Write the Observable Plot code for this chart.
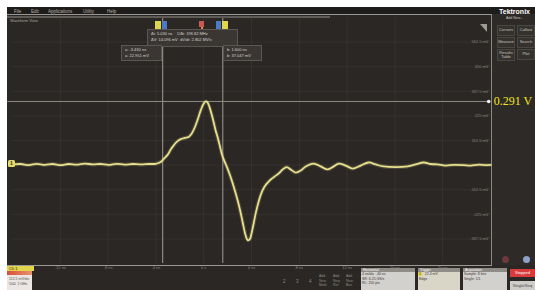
<!DOCTYPE html>
<html><head><meta charset="utf-8">
<script src="https://cdn.jsdelivr.net/npm/d3@7"></script>
<script src="https://cdn.jsdelivr.net/npm/@observablehq/plot@0.6"></script>
<style>
body{margin:0;background:#fff;width:535px;height:290px;overflow:hidden;position:relative;font-family:"Liberation Sans",Arial,sans-serif}
.a{position:absolute}
.t{position:absolute;color:#b5b1ab;font-size:4.5px;line-height:5px;white-space:nowrap}
.btn{position:absolute;background:#34312e;border:0.5px solid #4a4743;color:#c9c5bf;font-size:4px;line-height:4.5px;text-align:center;display:flex;align-items:center;justify-content:center}
.box{position:absolute;background:#3a3633;border:0.5px solid #5a5652;color:#d6d2cc;font-size:4px;line-height:6px;padding:1px 3px;white-space:nowrap}
.pan{position:absolute;background:#d3d1ce;color:#3a3835;font-size:3.5px;line-height:4.5px;white-space:nowrap;overflow:hidden}
.pan .h{background:#8f8c88;color:#fff;padding:0 2px;height:4px;line-height:4px}
</style></head>
<body>
<div class="a" id="screen" style="left:7px;top:7px;width:528px;height:283px;background:#2a2724;z-index:0"></div>
<div class="a" style="left:492px;top:7px;width:43px;height:258px;background:#2d2a27;z-index:1"></div>
<div class="a" style="left:491px;top:14px;width:1px;height:252px;background:#8d8a85;z-index:1"></div>
<div class="t" style="left:506px;top:16px;font-size:3.5px;color:#c9c5bf;z-index:1">Add New...</div>
<div class="btn" style="left:497px;top:25px;width:16px;height:9px;z-index:1">Cursors</div>
<div class="btn" style="left:517px;top:25px;width:16px;height:9px;z-index:1">Callout</div>
<div class="btn" style="left:497px;top:37px;width:16px;height:9px;z-index:1">Measure</div>
<div class="btn" style="left:517px;top:37px;width:16px;height:9px;z-index:1">Search</div>
<div class="btn" style="left:497px;top:49px;width:16px;height:10px;z-index:1">Results<br>Table</div>
<div class="btn" style="left:517px;top:49px;width:16px;height:9px;z-index:1">Plot</div>

<div id="chart" class="a" style="left:0;top:0;z-index:2"></div>

<div class="a" style="left:7px;top:7px;width:528px;height:7px;background:#1f1d1b;z-index:3"></div>
<div class="t" style="left:14px;top:8.5px;z-index:3">File</div>
<div class="t" style="left:31px;top:8.5px;z-index:3">Edit</div>
<div class="t" style="left:48px;top:8.5px;z-index:3">Applications</div>
<div class="t" style="left:83px;top:8.5px;z-index:3">Utility</div>
<div class="t" style="left:107px;top:8.5px;z-index:3">Help</div>
<div class="t" style="left:499px;top:8px;font-size:7px;line-height:7px;font-weight:bold;color:#fff;z-index:3">Tektronix</div>
<div class="a" style="left:7px;top:14px;width:485px;height:1px;background:#9a9894;z-index:3"></div>
<div class="a" style="left:7px;top:16px;width:323px;height:1.5px;background:#5e5b57;z-index:3"></div>
<div class="t" style="left:10px;top:17.5px;font-size:4px;color:#a9a59f;z-index:3">Waveform View</div>
<div class="a" style="left:480px;top:24px;width:0;height:0;border-left:7px solid transparent;border-top:8px solid #9d9a95;z-index:3"></div>

<div class="a" style="left:155px;top:21px;width:6px;height:8px;background:#e2d54e;z-index:3"></div>
<div class="a" style="left:162px;top:21px;width:5px;height:8px;background:#4d79c6;z-index:3"></div>
<div class="a" style="left:199px;top:21px;width:5px;height:6px;background:#c85a55;z-index:3"></div>
<div class="a" style="left:201px;top:27px;width:2px;height:3px;background:#e08a3a;z-index:3"></div>
<div class="a" style="left:216px;top:21px;width:5px;height:8px;background:#4d79c6;z-index:3"></div>
<div class="a" style="left:222px;top:21px;width:6px;height:8px;background:#e2d54e;z-index:3"></div>

<div class="box" style="left:147px;top:29px;width:83px;height:14px;z-index:3">Δt: 5.030 ns &nbsp;&nbsp; 1/Δt: 198.82 MHz<br>ΔV: 14.096 mV &nbsp;dV/dt: 2.802 MV/s</div>
<div class="box" style="left:121px;top:45px;width:33px;height:12px;z-index:3">a: -3.430 ns<br>a: 22.951 mV</div>
<div class="box" style="left:223px;top:45px;width:31px;height:12px;z-index:3">b: 1.600 ns<br>b: 37.047 mV</div>

<div class="a" style="left:8px;top:160px;width:7px;height:7px;border-radius:1.5px;background:#e6dc6a;color:#2a2724;font-size:5px;line-height:7px;text-align:center;font-weight:bold;z-index:3">1</div>

<div class="a" style="left:7px;top:265px;width:485px;height:1px;background:#9a9894;z-index:3"></div>
<div class="a" style="left:7px;top:266px;width:25px;height:24px;background:#ebe6e4;z-index:3"></div>
<div class="a" style="left:7px;top:266px;width:25px;height:5px;background:#e3d44c;color:#2a2724;font-size:4px;line-height:5px;padding-left:2px;z-index:3">Ch 1</div>
<div class="a" style="left:7px;top:271px;width:25px;height:4px;background:linear-gradient(90deg,#d8503d,#e89070);z-index:3"></div>
<div class="t" style="left:9px;top:277px;font-size:3.5px;line-height:4.5px;color:#55524e;z-index:3">112.5 mV/div<br>50Ω &nbsp;2 GHz</div>
<div class="t" style="left:283px;top:279px;color:#8d8984;z-index:3">2</div>
<div class="t" style="left:296px;top:279px;color:#8d8984;z-index:3">3</div>
<div class="t" style="left:309px;top:279px;color:#8d8984;z-index:3">4</div>
<div class="t" style="left:319px;top:274px;font-size:3.5px;line-height:4.5px;color:#8d8984;z-index:3">Add<br>New<br>Math</div>
<div class="t" style="left:333px;top:274px;font-size:3.5px;line-height:4.5px;color:#8d8984;z-index:3">Add<br>New<br>Ref</div>
<div class="t" style="left:346px;top:274px;font-size:3.5px;line-height:4.5px;color:#8d8984;z-index:3">Add<br>New<br>Bus</div>
<div class="pan" style="left:361px;top:268px;width:54px;height:22px;z-index:3"><div class="h">Horizontal</div>&nbsp;4 ns/div &nbsp; 40 ns<br>&nbsp;SR: 6.25 GS/s<br>&nbsp;RL: 250 pts</div>
<div class="pan" style="left:418px;top:268px;width:42px;height:22px;background:#d9d6c8;z-index:3"><div class="h">Trigger</div><span style="background:#e2d54e;color:#333">&nbsp;1&nbsp;</span> &nbsp; 22.4 mV<br>&nbsp;Edge</div>
<div class="pan" style="left:463px;top:268px;width:44px;height:22px;z-index:3"><div class="h">Acquisition</div>&nbsp;Sample: 8 bits<br>&nbsp;Single: 1/1</div>
<div class="a" style="left:510px;top:269px;width:25px;height:8px;background:#d83b3b;color:#fff;font-size:4px;line-height:8px;text-align:center;z-index:3">Stopped</div>
<div class="a" style="left:510px;top:281px;width:25px;height:9px;background:#cfcdca;color:#444;font-size:4px;line-height:9px;text-align:center;z-index:3">Single/Seq</div>
<div class="a" style="left:502px;top:256px;width:7px;height:7px;border-radius:50%;background:#6a3b3a;z-index:3"></div>
<div class="a" style="left:523px;top:256px;width:7px;height:7px;border-radius:50%;background:#8ea0c8;z-index:3"></div>

<script>
// Waveform (Ch1): time in ns, voltage in V
const timeNs = [-15.98,-15.31,-14.64,-13.97,-13.31,-12.64,-11.97,-11.30,-10.63,-9.96,-9.29,-8.62,-7.95,-7.28,-6.61,-5.94,-5.27,-4.60,-4.02,
  -3.60,-3.35,-3.01,-2.76,-2.51,-2.26,-1.92,-1.59,-1.26,-1.00,-0.75,-0.50,-0.25,0.00,0.17,0.33,0.50,0.67,0.84,1.00,1.17,1.34,1.51,1.67,
  1.92,2.18,2.43,2.68,2.93,3.18,3.35,3.51,3.68,3.85,4.02,4.18,4.35,4.60,4.85,5.10,5.36,5.61,5.94,6.28,6.61,6.95,
  7.28,7.70,8.12,8.54,9.20,9.79,10.38,10.88,11.30,11.88,12.47,13.14,13.81,14.39,15.06,16.07,17.07,17.74,18.41,19.00,19.58,20.25,20.92,21.76,22.34,23.01,23.60,24.00];
const voltV = [0.003,0.005,0.000,0.006,0.001,0.005,0.000,0.005,0.002,0.007,0.003,0.005,0.001,0.006,0.002,0.005,0.003,0.005,0.006,
  0.014,0.028,0.048,0.071,0.090,0.106,0.119,0.124,0.129,0.145,0.172,0.209,0.250,0.282,0.291,0.286,0.263,0.231,0.195,0.158,0.126,0.090,0.052,0.026,
  -0.006,-0.043,-0.084,-0.130,-0.180,-0.240,-0.285,-0.322,-0.343,-0.340,-0.308,-0.267,-0.221,-0.166,-0.125,-0.098,-0.080,-0.066,-0.052,-0.038,-0.020,-0.009,
  -0.020,-0.034,-0.025,-0.006,0.007,-0.006,-0.020,-0.006,0.007,-0.002,-0.016,-0.002,0.012,0.003,-0.006,-0.009,-0.006,0.003,0.012,0.005,0.003,-0.002,0.001,0.000,-0.002,0.002,0.000,0.001];

// Graticule tick values
const timeTicks = [-12,-8,-4,0,4,8,12,16,20];
const timeTickLabels = ["-12 ns","-8 ns","-4 ns","0 s","4 ns","8 ns","12 ns","16 ns","20 ns"];
const voltTicks = [0.5625,0.45,0.3375,0.225,0.1125,0,-0.1125,-0.225,-0.3375];
const voltTickLabels = ["562.5 mV","450 mV","337.5 mV","225 mV","112.5 mV","","-112.5 mV","-225 mV","-337.5 mV"];

// Cursors
const cursorTimes = [-3.43, 1.60];
const markerLevel = [0.291];
const markerLabel = ["0.291 V"];

const trace = timeNs.map((t, i) => ({t, v: voltV[i]}));
const tMin = -16, tMax = 24, vMin = -0.45, vMax = 0.675;

const chart = Plot.plot({
  width: 535, height: 290,
  marginLeft: 12, marginRight: 45, marginTop: 17, marginBottom: 27,
  x: {domain: [tMin, tMax], axis: null},
  y: {domain: [vMin, vMax], axis: null},
  style: {background: "transparent", overflow: "visible"},
  marks: [
    Plot.ruleX(timeTicks, {stroke: "#ffffff", strokeOpacity: 0.05}),
    Plot.ruleY(voltTicks, {stroke: "#ffffff", strokeOpacity: 0.05}),
    Plot.ruleX(cursorTimes, {stroke: "#a19d96", strokeWidth: 1}),
    Plot.ruleY(markerLevel, {x1: tMin - 0.4, x2: 23.85, stroke: "#8f8b85", strokeWidth: 1}),
    Plot.text(voltTicks, {x: tMax, y: d => d, text: (d, i) => voltTickLabels[i], dx: -2, textAnchor: "end", fontSize: 4, fill: "#8a8680", fontFamily: "Liberation Sans"}),
    Plot.text(timeTicks, {x: d => d, y: vMin, text: (d, i) => timeTickLabels[i], dy: 4, fontSize: 4, fill: "#8a8680", fontFamily: "Liberation Sans"}),
    Plot.line(trace, {x: "t", y: "v", stroke: "#e8e08a", strokeWidth: 4, strokeOpacity: 0.18, curve: "catmull-rom"}),
    Plot.line(trace, {x: "t", y: "v", stroke: "#e6df8e", strokeWidth: 1.8, curve: "catmull-rom"}),
    Plot.dot(markerLevel, {x: 23.85, y: d => d, r: 1.8, fill: "#f4f2ea"}),
    Plot.text(markerLabel, {x: 23.85, y: markerLevel[0], dx: 5, textAnchor: "start", fill: "#f2e51a", fontSize: 12, fontFamily: "Liberation Serif"})
  ]
});
document.getElementById("chart").appendChild(chart);
</script>
</body></html>
